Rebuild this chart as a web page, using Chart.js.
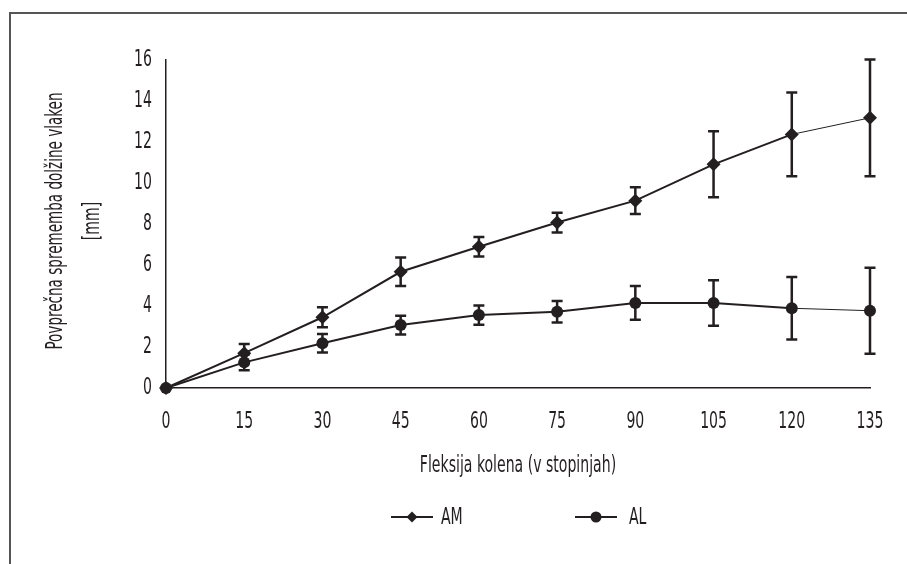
<!DOCTYPE html>
<html>
<head>
<meta charset="utf-8">
<script src="https://cdn.jsdelivr.net/npm/chart.js@4/dist/chart.umd.min.js"></script>
<style>
  html, body { margin: 0; padding: 0; background: #fff; }
  #wrap { position: relative; width: 907px; height: 564px; }
</style>
</head>
<body>
<div id="wrap"><canvas id="chart" width="907" height="564"></canvas></div>
<script>
// knee flexion angles (degrees)
const angles = [0, 15, 30, 45, 60, 75, 90, 105, 120, 135];

// mean change in fibre length [mm] and error (+/-)
const amValues = [0, 1.7, 3.45, 5.67, 6.89, 8.07, 9.14, 10.91, 12.37, 13.18];
const amErrors = [0, 0.45, 0.49, 0.69, 0.48, 0.48, 0.65, 1.61, 2.04, 2.85];
const alValues = [0, 1.25, 2.18, 3.07, 3.56, 3.72, 4.15, 4.15, 3.89, 3.77];
const alErrors = [0, 0.38, 0.45, 0.46, 0.47, 0.53, 0.82, 1.11, 1.52, 2.1];

const yTicks = [0, 2, 4, 6, 8, 10, 12, 14, 16];

const ink = '#231f20';
const fontFamily = '"DejaVu Sans Condensed", "DejaVu Sans", sans-serif';
const squeeze = 0.68; // the original uses a narrow, tall typeface

function toPoints(values) {
  return angles.map((a, i) => ({ x: a, y: values[i] }));
}

// thin last segment like in the original figure
function segWidth(ctx) {
  return ctx.p1DataIndex === angles.length - 1 ? 1 : 2;
}

// narrow text: scale horizontally around the anchor
function narrowText(ctx, text, x, y, align, size, rot, sq) {
  ctx.save();
  ctx.translate(x, y);
  if (rot) ctx.rotate(rot);
  ctx.scale(sq || squeeze, 1);
  ctx.font = size + 'px ' + fontFamily;
  ctx.textAlign = align;
  ctx.textBaseline = 'middle';
  ctx.fillText(text, 0, 0);
  ctx.restore();
}

const errorBars = {
  id: 'errorBars',
  afterDatasetsDraw(chart) {
    const { ctx, scales } = chart;
    const sets = [
      { values: amValues, errors: amErrors },
      { values: alValues, errors: alErrors },
    ];
    ctx.save();
    ctx.strokeStyle = ink;
    ctx.lineWidth = 2.5;
    sets.forEach(s => {
      angles.forEach((a, i) => {
        if (!s.errors[i]) return;
        const x = scales.x.getPixelForValue(a);
        const yTop = scales.y.getPixelForValue(s.values[i] + s.errors[i]);
        const yBot = scales.y.getPixelForValue(s.values[i] - s.errors[i]);
        ctx.beginPath();
        ctx.moveTo(x, yTop);
        ctx.lineTo(x, yBot);
        ctx.moveTo(x - 5.5, yTop);
        ctx.lineTo(x + 5.5, yTop);
        ctx.moveTo(x - 5.5, yBot);
        ctx.lineTo(x + 5.5, yBot);
        ctx.stroke();
      });
    });
    ctx.restore();
  }
};

const decorations = {
  id: 'decorations',
  afterDraw(chart) {
    const { ctx, chartArea, scales } = chart;
    ctx.save();
    // frame lines (left and top)
    ctx.strokeStyle = '#555';
    ctx.lineWidth = 2;
    ctx.beginPath();
    ctx.moveTo(10, 564);
    ctx.lineTo(10, 13);
    ctx.lineTo(907, 13);
    ctx.stroke();

    ctx.fillStyle = ink;

    // tick labels
    angles.forEach(a => {
      narrowText(ctx, String(a), scales.x.getPixelForValue(a), 422, 'center', 23);
    });
    yTicks.forEach(v => {
      narrowText(ctx, String(v), 152, scales.y.getPixelForValue(v), 'right', 23);
    });

    // x axis title
    const cx = (chartArea.left + chartArea.right) / 2;
    narrowText(ctx, 'Fleksija kolena (v stopinjah)', cx, 466, 'center', 23);

    // y axis title, two lines
    const cy = (chartArea.top + chartArea.bottom) / 2 - 3;
    narrowText(ctx, 'Povprečna sprememba dolžine vlaken', 56, cy, 'center', 23, -Math.PI / 2, 0.655);
    narrowText(ctx, '[mm]', 93, cy, 'center', 23, -Math.PI / 2);

    // legend
    const ly = 517;
    ctx.strokeStyle = ink;
    ctx.lineWidth = 2;
    ctx.beginPath();
    ctx.moveTo(391, ly); ctx.lineTo(433, ly);
    ctx.moveTo(575, ly); ctx.lineTo(617, ly);
    ctx.stroke();
    ctx.beginPath();
    ctx.moveTo(412, ly - 5.5); ctx.lineTo(417.5, ly);
    ctx.lineTo(412, ly + 5.5); ctx.lineTo(406.5, ly);
    ctx.closePath();
    ctx.fill();
    ctx.beginPath();
    ctx.arc(596, ly, 5.5, 0, Math.PI * 2);
    ctx.fill();
    narrowText(ctx, 'AM', 441, ly + 1, 'left', 23);
    narrowText(ctx, 'AL', 629, ly + 1, 'left', 23);
    ctx.restore();
  }
};

new Chart(document.getElementById('chart'), {
  type: 'line',
  data: {
    datasets: [
      {
        label: 'AM',
        data: toPoints(amValues),
        borderColor: ink,
        backgroundColor: ink,
        borderWidth: 2,
        pointStyle: 'rectRot',
        pointRadius: 7,
        pointBorderWidth: 0,
        segment: { borderWidth: segWidth },
        tension: 0,
        clip: false,
      },
      {
        label: 'AL',
        data: toPoints(alValues),
        borderColor: ink,
        backgroundColor: ink,
        borderWidth: 2,
        pointStyle: 'circle',
        pointRadius: 6,
        pointBorderWidth: 0,
        segment: { borderWidth: segWidth },
        tension: 0,
        clip: false,
      },
    ],
  },
  options: {
    responsive: false,
    animation: false,
    layout: { padding: { left: 0, top: 60, right: 37, bottom: 0 } },
    plugins: {
      legend: { display: false },
      tooltip: { enabled: false },
    },
    scales: {
      x: {
        type: 'linear',
        min: 0,
        max: 135,
        afterBuildTicks: s => { s.ticks = angles.map(v => ({ value: v })); },
        afterFit: s => { s.height = 176; },
        grid: { display: false, drawTicks: true, tickLength: 8, tickColor: ink },
        border: { display: true, color: ink, width: 1.5 },
        ticks: { display: false },
      },
      y: {
        min: 0,
        max: 16,
        afterBuildTicks: s => { s.ticks = yTicks.map(v => ({ value: v })); },
        afterFit: s => { s.width = 166; },
        grid: { display: false, drawTicks: true, tickLength: 7, tickColor: ink },
        border: { display: true, color: ink, width: 1.5 },
        ticks: { display: false },
      },
    },
  },
  plugins: [errorBars, decorations],
});
</script>
</body>
</html>
